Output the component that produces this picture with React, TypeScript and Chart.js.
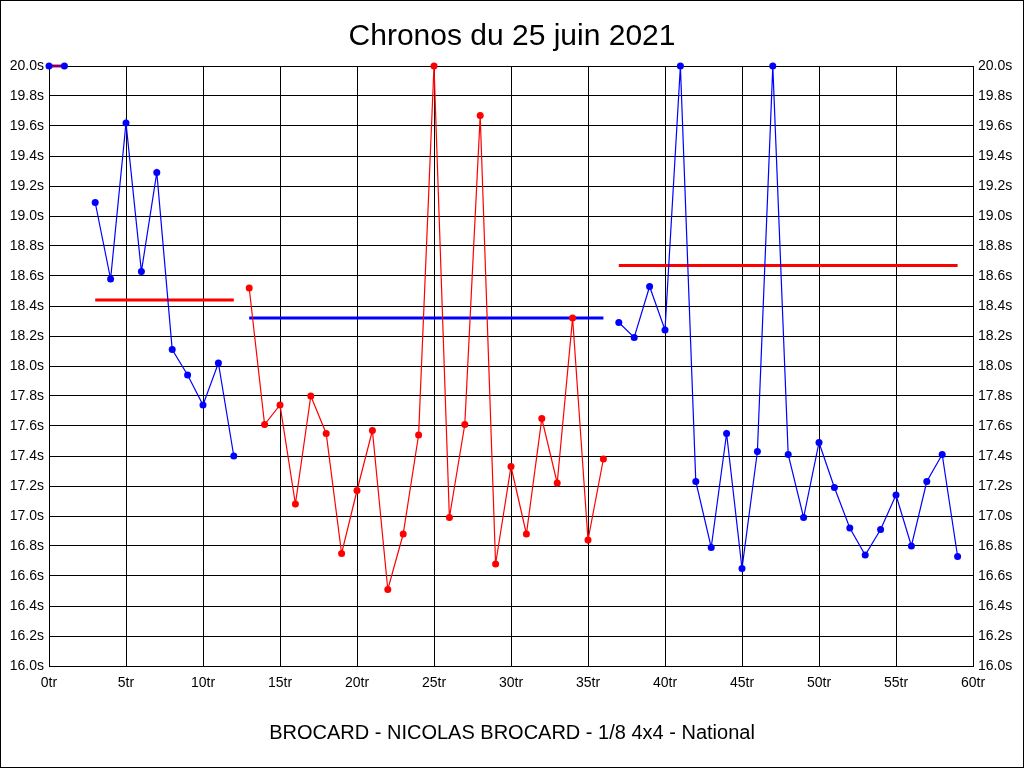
import { useEffect, useRef } from "react"
import { Chart, registerables } from "chart.js"

Chart.register(...registerables)

// tours (x) and chronos in seconds (y), one array per block of the session
const toursA = [0, 1]
const chronosA = [20.0, 20.0]

const toursB = [3, 4, 5, 6, 7, 8, 9, 10, 11, 12]
const chronosB = [19.09, 18.58, 19.62, 18.63, 19.29, 18.11, 17.94, 17.74, 18.02, 17.4]

const toursC = [13, 14, 15, 16, 17, 18, 19, 20, 21, 22, 23, 24, 25, 26, 27, 28, 29, 30, 31, 32, 33, 34, 35, 36]
const chronosC = [
  18.52, 17.61, 17.74, 17.08, 17.8, 17.55, 16.75, 17.17, 17.57, 16.51, 16.88, 17.54,
  20.0, 16.99, 17.61, 19.67, 16.68, 17.33, 16.88, 17.65, 17.22, 18.32, 16.84, 17.38,
]

const toursD = [37, 38, 39, 40, 41, 42, 43, 44, 45, 46, 47, 48, 49, 50, 51, 52, 53, 54, 55, 56, 57, 58, 59]
const chronosD = [
  18.29, 18.19, 18.53, 18.24, 20.0, 17.23, 16.79, 17.55, 16.65, 17.43, 20.0, 17.41,
  16.99, 17.49, 17.19, 16.92, 16.74, 16.91, 17.14, 16.8, 17.23, 17.41, 16.73,
]

// block averages: [start tour, end tour, average]
const moyenneA = [0, 1, 20.0]
const moyenneB = [3, 12, 18.44]
const moyenneC = [13, 36, 18.32]
const moyenneD = [37, 59, 18.67]

const RED = "#ff0000"
const BLUE = "#0000ff"

const pts = (xs: number[], ys: number[]) => xs.map((x, i) => ({ x, y: ys[i] }))
const avg = (m: number[]) => [
  { x: m[0], y: m[2] },
  { x: m[1], y: m[2] },
]

const frame = {
  id: "frame",
  afterDraw(chart: Chart) {
    const ctx = chart.ctx
    ctx.save()
    ctx.strokeStyle = "#000"
    ctx.lineWidth = 1
    ctx.strokeRect(0.5, 0.5, chart.width - 1, chart.height - 1)
    ctx.restore()
  },
}

export default function App() {
  const chartRef = useRef<HTMLCanvasElement>(null)
  const chartInstance = useRef<Chart | null>(null)

  useEffect(() => {
    document.body.style.margin = "0"
    if (!chartRef.current) return
    if (chartInstance.current) chartInstance.current.destroy()
    const ctx = chartRef.current.getContext("2d")
    if (!ctx) return

    const serie = (xs: number[], ys: number[], color: string) => ({
      data: pts(xs, ys),
      borderColor: color,
      borderWidth: 1.2,
      pointBackgroundColor: color,
      pointBorderColor: color,
      pointRadius: 3.5,
      pointBorderWidth: 0,
      clip: false as const,
      tension: 0,
    })
    const moyenne = (m: number[], color: string) => ({
      data: avg(m),
      borderColor: color,
      borderWidth: 3,
      pointRadius: 0,
      clip: false as const,
    })

    const ticksFont = { family: "'Liberation Sans', Arial", size: 14 }

    chartInstance.current = new Chart(ctx, {
      type: "line",
      data: {
        datasets: [
          serie(toursA, chronosA, BLUE),
          moyenne(moyenneA, RED),
          serie(toursB, chronosB, BLUE),
          serie(toursC, chronosC, RED),
          serie(toursD, chronosD, BLUE),
          moyenne(moyenneB, RED),
          moyenne(moyenneC, BLUE),
          moyenne(moyenneD, RED),
        ],
      },
      options: {
        animation: false,
        responsive: true,
        maintainAspectRatio: false,
        layout: { padding: 0 },
        plugins: {
          legend: { display: false },
          tooltip: { enabled: false },
          title: {
            display: true,
            text: "Chronos du 25 juin 2021",
            color: "#000",
            font: { family: "'Liberation Sans', Arial", size: 30, weight: "normal" },
            padding: { top: 19, bottom: 11 },
          },
          subtitle: {
            display: true,
            position: "bottom",
            text: "BROCARD - NICOLAS BROCARD - 1/8 4x4 - National",
            color: "#000",
            font: { family: "'Liberation Sans', Arial", size: 20 },
            padding: { top: 15, bottom: 23 },
          },
        },
        scales: {
          x: {
            type: "linear",
            min: 0,
            max: 60,
            grid: { color: "#000", drawTicks: false },
            border: { color: "#000" },
            ticks: {
              stepSize: 5,
              color: "#000",
              font: ticksFont,
              padding: 9,
              maxRotation: 0,
              callback: (v) => `${v}tr`,
            },
            afterFit: (scale) => {
              scale.height = 40
            },
          },
          y: {
            position: "left",
            min: 16,
            max: 20,
            grid: { color: "#000", drawTicks: false },
            border: { color: "#000" },
            ticks: {
              stepSize: 0.2,
              color: "#000",
              font: ticksFont,
              padding: 5,
              callback: (v) => `${Number(v).toFixed(1)}s`,
            },
            afterFit: (scale) => {
              scale.width = 49
            },
          },
          y2: {
            position: "right",
            min: 16,
            max: 20,
            grid: { display: false, drawTicks: false },
            border: { color: "#000" },
            ticks: {
              stepSize: 0.2,
              color: "#000",
              font: ticksFont,
              padding: 5,
              callback: (v) => `${Number(v).toFixed(1)}s`,
            },
            afterFit: (scale) => {
              scale.width = 51
            },
          },
        },
      },
      plugins: [frame],
    })

    return () => {
      if (chartInstance.current) {
        chartInstance.current.destroy()
        chartInstance.current = null
      }
    }
  }, [])

  return (
    <div style={{ width: 1024, height: 768, position: "relative", background: "#fff" }}>
      <canvas ref={chartRef} />
    </div>
  )
}
